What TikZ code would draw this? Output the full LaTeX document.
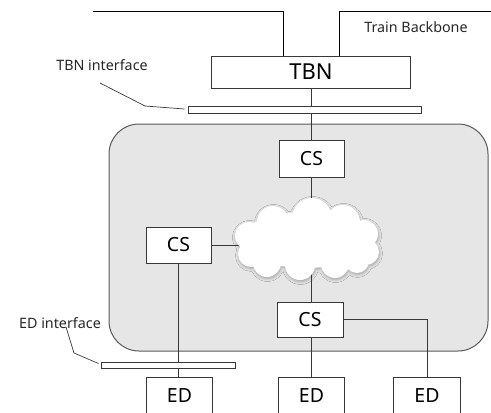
\documentclass[tikz,border=0pt]{standalone}
\usepackage{fontspec}
\setmainfont{Noto Sans}
\usetikzlibrary{shadows.blur,backgrounds}
\definecolor{edge}{HTML}{383838}
\definecolor{domainfill}{HTML}{E6E6E6}
\tikzset{
  box/.style={draw=edge, fill=white, line width=1pt, inner sep=0pt, font=\fontsize{19.5}{20}\selectfont},
  openbox/.style={inner sep=0pt, font=\fontsize{19.5}{20}\selectfont},
  ifbar/.style={draw=edge, fill=white, line width=1pt, inner sep=0pt, minimum height=6.5pt},
  link/.style={draw=edge, line width=1pt},
  lbl/.style={inner sep=0pt, font=\fontsize{14.3}{16}\selectfont, text=black!85}
}
\begin{document}
\begin{tikzpicture}[x=1pt,y=-1pt]
\useasboundingbox (0,0) rectangle (491,413);

% backbone switch and its interface
\node[box, minimum width=199pt, minimum height=32pt, font=\fontsize{22}{24}\selectfont] (tbn) at (311,72) {TBN};
\node[ifbar, minimum width=233pt] (tbnif) at (304.5,110) {};

% consist switches
\node[box, minimum width=65pt, minimum height=37pt] (cstop) at (311.5,158.5) {CS};
\node[box, minimum width=65pt, minimum height=36pt] (csl) at (178.5,245) {CS};
\node[box, minimum width=66pt, minimum height=35pt] (csb) at (310,319.5) {CS};

% consist network cloud: an anchor box plus puffs with a soft shadow
\node[inner sep=0pt, minimum width=146pt, minimum height=82pt] (cloud) at (306,239) {};
\fill[white, blur shadow={shadow xshift=0.5pt, shadow yshift=-1.5pt, shadow blur radius=3pt, shadow opacity=30}]
  (306,240) ellipse [x radius=66, y radius=28]
  (312,218) circle [radius=20]
  (273,222) circle [radius=16]
  (343,222) circle [radius=17]
  (249,236) circle [radius=14]
  (364,234) circle [radius=14]
  (366,252) circle [radius=13]
  (251,254) circle [radius=13]
  (267,263) circle [radius=14]
  (300,265) circle [radius=15]
  (335,264) circle [radius=14]
  (357,261) circle [radius=12];

% end devices and their interface
\node[ifbar, minimum width=134pt] (edif) at (168,365.5) {};
\node[openbox, minimum width=65pt, minimum height=35pt] (ed1) at (179.5,395.5) {ED};
\node[openbox, minimum width=65pt, minimum height=35pt] (ed2) at (311.5,395.5) {ED};
\node[openbox, minimum width=66pt, minimum height=35pt] (ed3) at (427,395.5) {ED};
\foreach \e in {ed1,ed2,ed3}
  \draw[link] (\e.south west) |- (\e.north east) -- (\e.south east);

% labels
\node[lbl] (tbnlbl) at (102,65) {TBN interface};
\node[lbl] (bblbl) at (416,27) {Train Backbone};
\node[lbl] (edlbl) at (60,323) {ED interface};

% train backbone lines
\coordinate (bbL) at (93,11);
\coordinate (bbR) at (491,11);
\draw[black, line width=1pt] (bbL) -| ([xshift=-28pt]tbn.north);
\draw[black, line width=1pt] (bbR) -| ([xshift=28pt]tbn.north);

% leader lines to the interfaces
\coordinate (tbnlead) at (100,83);
\coordinate (edlead) at (66,327);
\draw[edge, line width=0.7pt] (tbnlead) -- (145,106) -- ([xshift=-3pt,yshift=1pt]tbnif.west);
\draw[edge, line width=0.7pt] (edlead) -- (74,353) -- ([xshift=-2pt,yshift=2pt]edif.west);

\begin{scope}[on background layer]
  % consist domain
  \draw[draw=black!65, fill=domainfill, line width=1pt, rounded corners=30pt] (109,124) rectangle (488,351);
  % links
  \draw[link] (tbn.south -| cstop.north) -- (cstop.north);
  \draw[link] (cstop.south) -- (cstop.south |- cloud.north) -- ++(0,10);
  \draw[link] (csl.east) -- ([xshift=10pt]cloud.west |- csl.east);
  \draw[link] (csb.north -| cstop.south) -- ++(0,-30);
  \draw[link] (csl.south) -- (csl.south |- ed1.north);
  \draw[link] (csb.south -| ed2.north) -- (ed2.north);
  \draw[link] (csb.east) -| (ed3.north);
\end{scope}
\end{tikzpicture}
\end{document}
